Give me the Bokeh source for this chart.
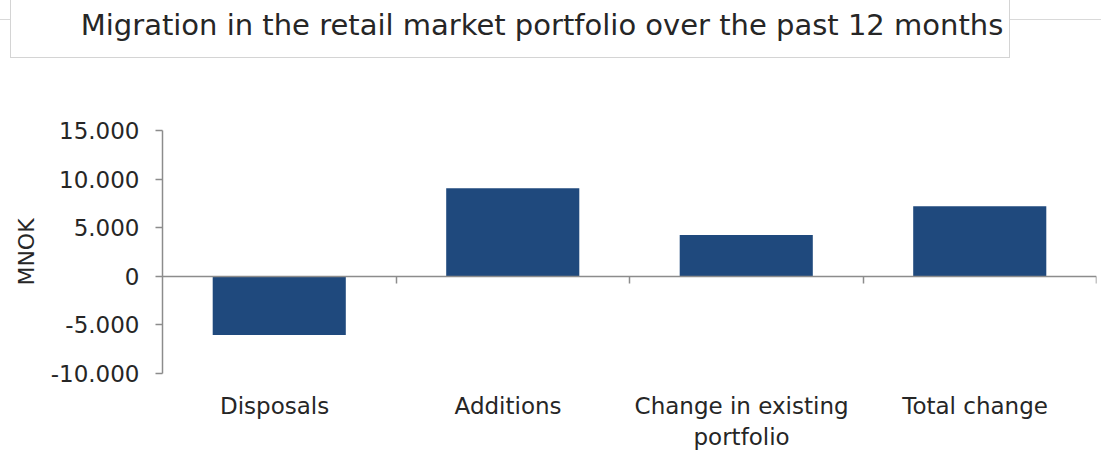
from bokeh.plotting import figure
from bokeh.models import (Range1d, LinearAxis, FixedTicker, CustomJSTickFormatter,
                          ColumnDataSource, Div)
from bokeh.layouts import column
from bokeh.embed import file_html
from bokeh.resources import INLINE

# ---- data ----
categories = ["Disposals", "Additions", "Change in existing\nportfolio", "Total change"]
values = [-6050, 9050, 4250, 7200]
y_ticks = [-10000, -5000, 0, 5000, 10000, 15000]
title_text = "Migration in the retail market portfolio over the past 12 months"
y_label = "MNOK"

FONT = "DejaVu Sans"
TXT = "#262626"
AX = "#8c8c8c"
BAR = "#1f497d"

n = len(categories)
centers = [i + 0.5 for i in range(n)]
label_pos = [c - 0.02 for c in centers]
boundaries = [i + 1 for i in range(n)]

title_html = f"""
<div style="position:relative;width:1101px;height:60px;">
  <div style="position:absolute;left:0;top:19px;width:1101px;height:1px;background:#d9d9d9;"></div>
  <div style="position:absolute;left:10px;top:0;width:1000px;height:58px;background:#ffffff;
              border:1px solid #d4d4d4;border-top:none;">
    <div style="position:absolute;left:531px;top:8px;transform:translateX(-50%);white-space:nowrap;
                font-family:'{FONT}';font-size:29px;line-height:34px;color:{TXT};">{title_text}</div>
  </div>
</div>
"""
header = Div(text=title_html, width=1101, height=60, styles={"margin": "0", "padding": "0"})

source = ColumnDataSource(dict(x=centers, val=values, cat=categories))

p = figure(x_range=Range1d(0, n), y_range=Range1d(-10000, 15000),
           frame_width=934, frame_height=243,
           min_border_left=162, min_border_right=5, min_border_top=70, min_border_bottom=77,
           output_backend="svg", toolbar_location=None)
p.outline_line_color = None
p.grid.grid_line_color = None
p.background_fill_color = "white"
p.border_fill_color = "white"

p.vbar(x="x", top="val", bottom=0, width=0.57, source=source,
       fill_color=BAR, line_color=None)

# category axis (labels only, at bottom)
xa = p.xaxis[0]
xa.ticker = FixedTicker(ticks=label_pos, minor_ticks=[])
xa.major_label_overrides = {c: lab for c, lab in zip(label_pos, categories)}
xa.axis_line_color = None
xa.major_tick_line_color = None
xa.major_tick_in = 0
xa.major_tick_out = 0
xa.major_label_standoff = 19
xa.major_label_text_font = FONT
xa.major_label_text_font_size = "23px"
xa.major_label_text_color = TXT

# zero line with boundary ticks (no labels)
zero_axis = LinearAxis(fixed_location=0,
                       ticker=FixedTicker(ticks=boundaries, minor_ticks=[]),
                       formatter=CustomJSTickFormatter(code="return '';"),
                       major_tick_in=7, major_tick_out=0,
                       axis_line_color=AX, axis_line_width=1.5,
                       major_tick_line_color=AX, major_tick_line_width=1.5)
p.add_layout(zero_axis, "above")

# y axis
ya = p.yaxis[0]
ya.ticker = FixedTicker(ticks=y_ticks, minor_ticks=[])
ya.formatter = CustomJSTickFormatter(code=r"return tick.toFixed(0).replace(/\B(?=(\d{3})+(?!\d))/g, '.');")
ya.axis_line_color = AX
ya.axis_line_width = 1.5
ya.major_tick_line_color = AX
ya.major_tick_line_width = 1.5
ya.major_tick_in = 0
ya.major_tick_out = 7
ya.major_label_standoff = 16
ya.major_label_text_font = FONT
ya.major_label_text_font_size = "23px"
ya.major_label_text_color = TXT
ya.axis_label = y_label
ya.axis_label_text_font = FONT
ya.axis_label_text_font_size = "22px"
ya.axis_label_text_font_style = "normal"
ya.axis_label_text_color = TXT
ya.axis_label_standoff = 9

layout = column(header, p, spacing=0)

open("out.html", "w").write(file_html(layout, INLINE))
